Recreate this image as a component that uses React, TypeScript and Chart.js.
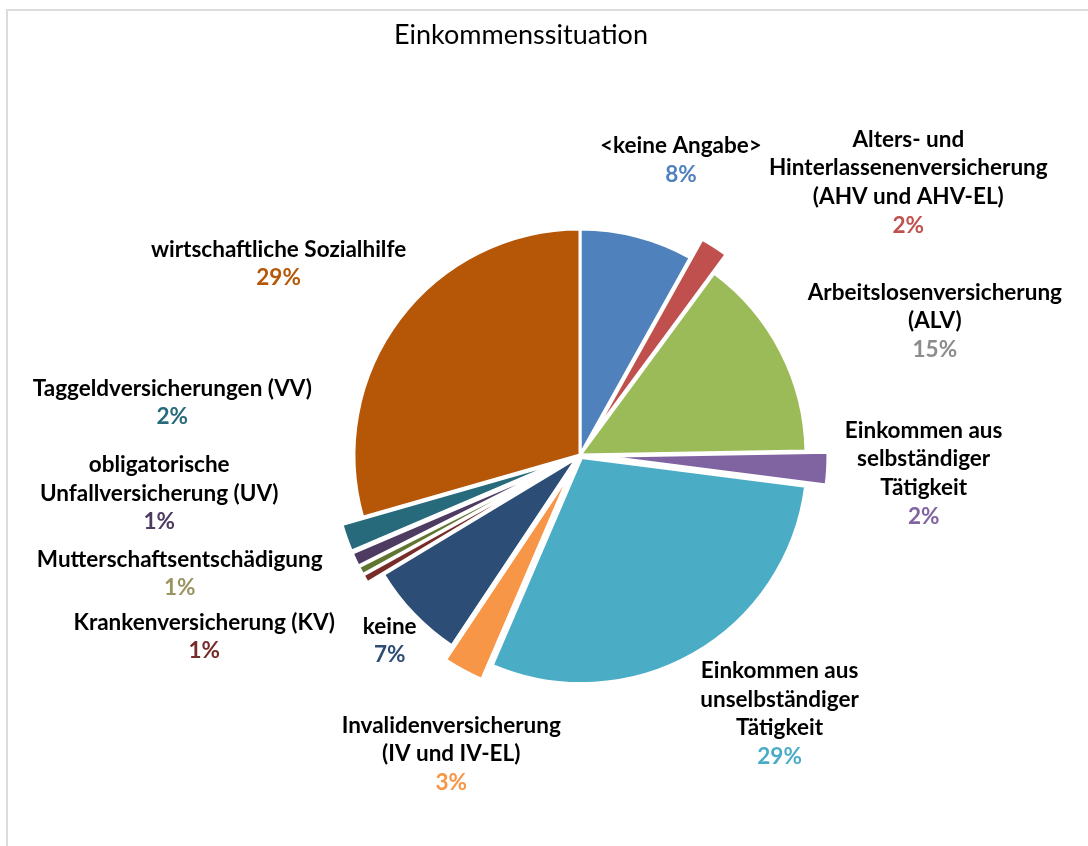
import React, { useEffect, useRef } from "react";
import { Chart, registerables } from "chart.js";

Chart.register(...registerables);

const titleText = "Einkommenssituation";

const categories: string[][] = [
  ["<keine Angabe>"],
  ["Alters- und", "Hinterlassenenversicherung", "(AHV und AHV-EL)"],
  ["Arbeitslosenversicherung", "(ALV)"],
  ["Einkommen aus", "selbständiger", "Tätigkeit"],
  ["Einkommen aus", "unselbständiger", "Tätigkeit"],
  ["Invalidenversicherung", "(IV und IV-EL)"],
  ["keine"],
  ["Krankenversicherung (KV)"],
  ["Mutterschaftsentschädigung"],
  ["obligatorische", "Unfallversicherung (UV)"],
  ["Taggeldversicherungen (VV)"],
  ["wirtschaftliche Sozialhilfe"],
];

const values = [8.1, 2.0, 14.6, 2.3, 29.4, 2.9, 7.0, 0.6, 0.6, 1.0, 2.0, 29.4];

const sliceColors = [
  "#4F81BD", "#C0504D", "#9BBB59", "#8064A2", "#4BACC6", "#F79646",
  "#2C4D75", "#772C2A", "#5F7530", "#4D3B62", "#276A7C", "#B65708",
];

const percentColors = [
  "#4F81BD", "#C0504D", "#8C8C8C", "#8064A2", "#4BACC6", "#F79646",
  "#2C4D75", "#772C2A", "#9A9462", "#4D3B62", "#276A7C", "#B65708",
];

// explosion distance (px) of each slice along its bisector
const explode = [0, 22, 0, 22, 3, 19, 4, 22, 22, 22, 22, 0];

// label block shift relative to the slice's outer mid point
const labelShift: [number, number][] = [
  [44, -77], [194, -65], [154, -31], [96, 4], [86, 59], [-12, 83],
  [-24, 26], [-161, 57], [-181, 2], [-196, -67], [-174, -136], [-121, -56],
];

const LABEL_FONT = 22.5;
const LINE_H = 28.7;
const FONT_FAMILY = "Lato, 'Open Sans', sans-serif";

const explodePlugin = {
  id: "explodeSlices",
  beforeDatasetDraw(chart: any, args: any) {
    const ctx = chart.ctx;
    args.meta.data.forEach((arc: any, i: number) => {
      const d = explode[i] || 0;
      const mid = (arc.startAngle + arc.endAngle) / 2;
      ctx.save();
      ctx.translate(Math.cos(mid) * d, Math.sin(mid) * d);
      arc.draw(ctx);
      ctx.restore();
    });
    return false;
  },
};

const labelPlugin = {
  id: "sliceLabels",
  afterDraw(chart: any) {
    const ctx = chart.ctx;
    const meta = chart.getDatasetMeta(0);
    const total = values.reduce((a, b) => a + b, 0);
    ctx.save();
    // title
    ctx.font = `400 27px ${FONT_FAMILY}`;
    ctx.fillStyle = "#000000";
    ctx.textAlign = "center";
    ctx.textBaseline = "alphabetic";
    const cx = meta.data[0].x;
    ctx.fillText(titleText, cx - 59, 44);

    ctx.font = `700 ${LABEL_FONT}px ${FONT_FAMILY}`;
    const capHalf = LABEL_FONT * 0.716 / 2;
    meta.data.forEach((arc: any, i: number) => {
      const mid = (arc.startAngle + arc.endAngle) / 2;
      const r = arc.outerRadius + (explode[i] || 0);
      const ax = arc.x + Math.cos(mid) * r;
      const ay = arc.y + Math.sin(mid) * r;
      const bx = ax + labelShift[i][0];
      const by = ay + labelShift[i][1];
      const lines = [...categories[i]];
      const pct = Math.round((values[i] / total) * 100) + "%";
      const n = lines.length + 1;
      const top = by - ((n - 1) * LINE_H) / 2;
      lines.forEach((t, k) => {
        ctx.fillStyle = "#000000";
        ctx.fillText(t, bx, top + k * LINE_H + capHalf);
      });
      ctx.fillStyle = percentColors[i];
      ctx.fillText(pct, bx, top + lines.length * LINE_H + capHalf);
    });
    ctx.restore();
  },
};

export default function App() {
  const ref = useRef<HTMLCanvasElement | null>(null);

  useEffect(() => {
    if (!ref.current) return;
    const chart = new Chart(ref.current, {
      type: "pie",
      data: {
        labels: categories.map((c) => c.join(" ")),
        datasets: [
          {
            data: values,
            backgroundColor: sliceColors,
            borderColor: "#FFFFFF",
            borderWidth: 3,
            radius: 226,
          } as any,
        ],
      },
      options: {
        responsive: false,
        animation: false,
        layout: { padding: { left: 130, right: 58, top: 100, bottom: 36 } },
        plugins: {
          legend: { display: false },
          title: { display: false },
          tooltip: { enabled: false },
        },
      },
      plugins: [explodePlugin, labelPlugin],
    });
    return () => chart.destroy();
  }, []);

  return (
    <div
      style={{
        position: "fixed",
        left: 0,
        top: 0,
        width: 1088,
        height: 846,
        overflow: "hidden",
        background: "#FFFFFF",
      }}
    >
      <div
        style={{
          position: "absolute",
          left: 6,
          top: 9,
          width: 1200,
          height: 1000,
          borderTop: "2px solid #DCDCDC",
          borderLeft: "2px solid #DCDCDC",
        }}
      />
      <canvas
        ref={ref}
        width={1088}
        height={846}
        style={{ position: "absolute", left: 0, top: 0, width: 1088, height: 846 }}
      />
    </div>
  );
}
